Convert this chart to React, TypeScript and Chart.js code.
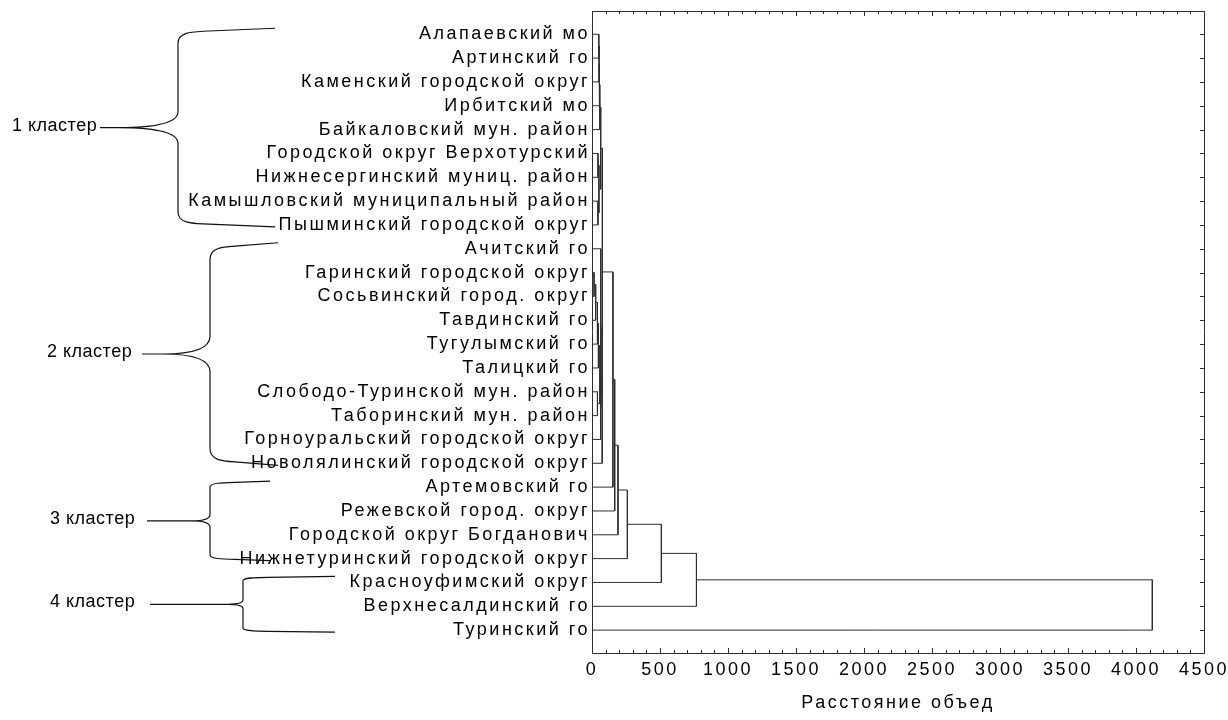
import React, { useEffect, useRef } from 'react';
import { Chart, registerables } from 'chart.js';

Chart.register(...registerables);

// ---------------- DATA ----------------
const leafLabels: string[] = [
  'Алапаевский мо',
  'Артинский го',
  'Каменский городской округ',
  'Ирбитский мо',
  'Байкаловский мун. район',
  'Городской округ Верхотурский',
  'Нижнесергинский муниц. район',
  'Камышловский муниципальный район',
  'Пышминский городской округ',
  'Ачитский го',
  'Гаринский городской округ',
  'Сосьвинский город. округ',
  'Тавдинский го',
  'Тугулымский го',
  'Талицкий го',
  'Слободо-Туринской мун. район',
  'Таборинский мун. район',
  'Горноуральский городской округ',
  'Новолялинский городской округ',
  'Артемовский го',
  'Режевской город. округ',
  'Городской округ Богданович',
  'Нижнетуринский городской округ',
  'Красноуфимский округ',
  'Верхнесалдинский го',
  'Туринский го',
];

// Linkage table: merge k creates node (26 + k) from nodes mergeLeft[k] and mergeRight[k]
const mergeLeft: number[] = [0, 26, 27, 28, 5, 7, 30, 29, 10, 34, 35, 36, 15, 37, 39, 9, 41, 33, 43, 44, 45, 46, 47, 48, 49];
const mergeRight: number[] = [1, 2, 3, 4, 6, 8, 31, 32, 11, 12, 13, 14, 16, 38, 17, 40, 18, 42, 19, 20, 21, 22, 23, 24, 25];
const mergeDistance: number[] = [50, 52, 55, 58, 44, 44, 51, 64, 15, 27, 40, 47, 40, 58, 63, 65, 75, 77, 154, 167, 191, 260, 510, 768, 4120];

const xAxisMin = 0;
const xAxisMax = 4500;
const xLabelStep = 500;
const xMinorStep = 100;
const xAxisTitle = 'Расстояние объед';

const clusterNames: string[] = ['1 кластер', '2 кластер', '3 кластер', '4 кластер'];
const clusterFirstLeaf: number[] = [0, 9, 19, 23];
const clusterLastLeaf: number[] = [8, 18, 22, 25];

// ---------------- STYLE / LAYOUT ----------------
const FONT_FAMILY = '"Liberation Sans", Arial, sans-serif';
const LINE_COLOR = '#2e2e2e';
const braceLayout = [
  { textX: 12, tipX0: 100, tipX1: 118, spineX: 178, endX: 275 },
  { textX: 47, tipX0: 142, tipX1: 163, spineX: 210, endX: 278 },
  { textX: 50, tipX0: 147, tipX1: 192, spineX: 210, endX: 270 },
  { textX: 50, tipX0: 150, tipX1: 228, spineX: 243, endX: 335 },
];

function buildDatasets() {
  const pos: number[] = leafLabels.map((_, i) => i);
  const height: number[] = leafLabels.map(() => 0);
  const datasets: any[] = [];
  mergeLeft.forEach((l, k) => {
    const r = mergeRight[k];
    const d = mergeDistance[k];
    datasets.push({
      data: [
        { x: height[l], y: pos[l] },
        { x: d, y: pos[l] },
        { x: d, y: pos[r] },
        { x: height[r], y: pos[r] },
      ],
      showLine: true,
      borderColor: LINE_COLOR,
      borderWidth: 1,
      pointRadius: 0,
      tension: 0,
      fill: false,
    });
    pos.push((pos[l] + pos[r]) / 2);
    height.push(d);
  });
  return datasets;
}

const spacingPlugin = {
  id: 'letterSpacing',
  beforeUpdate(chart: any) {
    chart.ctx.letterSpacing = '2.5px';
  },
  beforeDraw(chart: any) {
    chart.ctx.letterSpacing = '2.5px';
  },
};

const framePlugin = {
  id: 'frameAndBraces',
  afterDraw(chart: any) {
    const ctx = chart.ctx;
    const { left, right, top, bottom } = chart.chartArea;
    const xs = chart.scales.x;
    const ys = chart.scales.y;
    ctx.save();
    ctx.letterSpacing = '0px';
    ctx.strokeStyle = LINE_COLOR;
    ctx.lineWidth = 1;
    ctx.beginPath();
    ctx.rect(Math.round(left) + 0.5, Math.round(top) + 0.5, Math.round(right - left), Math.round(bottom - top));
    ctx.stroke();
    // x ticks (top and bottom, pointing inwards)
    ctx.beginPath();
    for (let v = xAxisMin; v <= xAxisMax; v += xMinorStep) {
      const px = Math.round(xs.getPixelForValue(v)) + 0.5;
      const len = v % xLabelStep === 0 ? 5 : 3;
      ctx.moveTo(px, bottom);
      ctx.lineTo(px, bottom - len);
      ctx.moveTo(px, top);
      ctx.lineTo(px, top + len);
    }
    // right ticks at each leaf
    leafLabels.forEach((_, i) => {
      const py = Math.round(ys.getPixelForValue(i)) + 0.5;
      ctx.moveTo(right, py);
      ctx.lineTo(right - 4, py);
    });
    ctx.stroke();

    // cluster braces
    ctx.strokeStyle = '#111';
    ctx.lineWidth = 1.2;
    clusterNames.forEach((name, k) => {
      const L = braceLayout[k];
      const topY = ys.getPixelForValue(clusterFirstLeaf[k]) - 6;
      const botY = ys.getPixelForValue(clusterLastLeaf[k]) + 2;
      const midY = (topY + botY) / 2;
      const half = (botY - topY) / 2;
      const r1 = half * 0.16;
      const r2 = half * 0.15;
      ctx.beginPath();
      ctx.moveTo(L.tipX0, midY);
      ctx.lineTo(L.tipX1, midY);
      ctx.quadraticCurveTo(L.spineX, midY, L.spineX, midY - r1);
      ctx.lineTo(L.spineX, topY + r2);
      ctx.bezierCurveTo(L.spineX, topY + r2 * 0.3, L.spineX + 12, topY + r2 * 0.25, L.spineX + 25, topY + r2 * 0.2);
      ctx.lineTo(L.endX, topY);
      ctx.moveTo(L.tipX1, midY);
      ctx.quadraticCurveTo(L.spineX, midY, L.spineX, midY + r1);
      ctx.lineTo(L.spineX, botY - r2);
      ctx.bezierCurveTo(L.spineX, botY - r2 * 0.3, L.spineX + 12, botY - r2 * 0.25, L.spineX + 25, botY - r2 * 0.2);
      ctx.lineTo(L.endX, botY);
      ctx.stroke();
      ctx.fillStyle = '#000';
      ctx.font = '18px ' + FONT_FAMILY;
      ctx.letterSpacing = '0.5px';
      ctx.textAlign = 'left';
      ctx.textBaseline = 'middle';
      ctx.fillText(name, L.textX, midY - 2);
      ctx.letterSpacing = '0px';
    });
    ctx.restore();
  },
};

export default function App() {
  const canvasRef = useRef<HTMLCanvasElement | null>(null);

  useEffect(() => {
    document.body.style.margin = '0';
    const canvas = canvasRef.current;
    if (!canvas) return;
    const font = { family: FONT_FAMILY, size: 18 };
    const chart = new Chart(canvas, {
      type: 'scatter',
      data: { datasets: buildDatasets() },
      plugins: [spacingPlugin, framePlugin],
      options: {
        responsive: false,
        animation: false,
        devicePixelRatio: 1,
        layout: { padding: { top: 11, right: 24, bottom: 0, left: 0 } },
        plugins: { legend: { display: false }, tooltip: { enabled: false } },
        scales: {
          x: {
            type: 'linear',
            position: 'bottom',
            min: xAxisMin,
            max: xAxisMax,
            grid: { display: false, drawTicks: false },
            border: { display: false },
            ticks: {
              stepSize: xLabelStep,
              padding: 6,
              maxRotation: 0,
              autoSkip: false,
              font,
              color: '#000',
              callback: (v: any) => String(v),
            },
            title: { display: true, text: xAxisTitle, font, color: '#000', padding: { top: 0, bottom: 6 } },
            afterFit: (s: any) => {
              s.height = 67;
              s.paddingLeft = 0;
              s.paddingRight = 0;
            },
          },
          y: {
            type: 'linear',
            reverse: true,
            min: -0.976,
            max: 25.96,
            grid: { display: false, drawTicks: false },
            border: { display: false },
            afterBuildTicks: (s: any) => {
              s.ticks = leafLabels.map((_, i) => ({ value: i }));
            },
            ticks: {
              autoSkip: false,
              padding: 2,
              font,
              color: '#000',
              callback: (v: any) => leafLabels[Math.round(Number(v))],
            },
            afterFit: (s: any) => {
              s.width = 592;
              s.paddingTop = 0;
              s.paddingBottom = 0;
            },
          },
        },
      } as any,
    });
    return () => chart.destroy();
  }, []);

  return (
    <div style={{ width: 1228, height: 720, position: 'relative', background: '#fff' }}>
      <canvas ref={canvasRef} width={1228} height={720} style={{ display: 'block' }} />
    </div>
  );
}
